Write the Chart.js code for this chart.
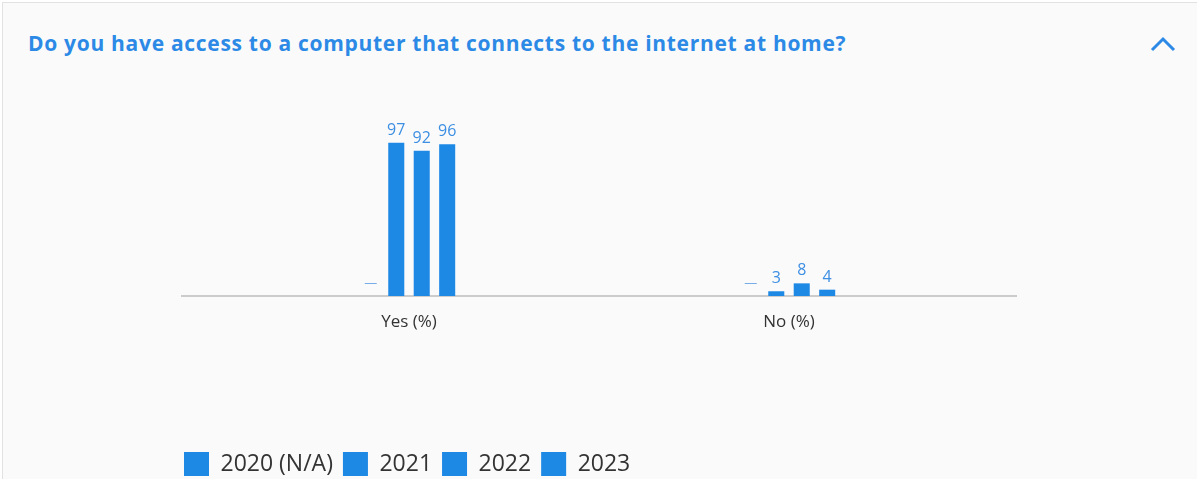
<!DOCTYPE html>
<html>
<head>
<meta charset="utf-8">
<script src="https://cdn.jsdelivr.net/npm/chart.js@4.4.0/dist/chart.umd.min.js"></script>
<style>
  html, body { margin: 0; padding: 0; width: 1197px; height: 479px; overflow: hidden; background: #fff; font-family: "Open Sans", sans-serif; }
  .panel { position: absolute; left: 2px; top: 2px; width: 1195px; height: 477px; background: #fafafa; border-left: 1px solid #e2e2e2; border-top: 1px solid #e2e2e2; box-sizing: border-box; }
  .title { position: absolute; left: 28px; top: 29px; margin: 0; font-size: 21px; letter-spacing: 0.7px; font-weight: 700; color: #2c8ae6; white-space: nowrap; }
  .chev { position: absolute; left: 1150px; top: 36px; }
  #wrap { position: absolute; left: 174px; top: 100px; width: 843px; height: 386px; }
</style>
</head>
<body>
<div class="panel"></div>
<h2 class="title">Do you have access to a computer that connects to the internet at home?</h2>
<svg class="chev" width="26" height="16"><polyline points="2,14 13,3 24,14" fill="none" stroke="#2c8ae6" stroke-width="3"/></svg>
<div id="wrap"><canvas id="chart"></canvas></div>
<script>
// answers and survey years
const categories = ['Yes (%)', 'No (%)'];
const years = ['2020 (N/A)', '2021', '2022', '2023'];
const values2020 = [null, null];
const values2021 = [97, 3];
const values2022 = [92, 8];
const values2023 = [96, 4];

const barColor = '#1e88e5';
const allValues = [values2020, values2021, values2022, values2023];

// grey baseline that runs a bit past the plot on both sides
const baseline = {
  id: 'baseline',
  beforeDatasetsDraw(chart) {
    const ctx = chart.ctx, a = chart.chartArea;
    ctx.save();
    ctx.strokeStyle = '#cccccc';
    ctx.lineWidth = 2;
    ctx.beginPath();
    ctx.moveTo(a.left - 38, a.bottom);
    ctx.lineTo(a.right + 38, a.bottom);
    ctx.stroke();
    ctx.restore();
  }
};

// value above each bar, a dash where there is no data
const valueLabels = {
  id: 'valueLabels',
  afterDatasetsDraw(chart) {
    const ctx = chart.ctx;
    const y0 = chart.scales.y.getPixelForValue(0);
    ctx.save();
    ctx.textAlign = 'center';
    ctx.textBaseline = 'alphabetic';
    chart.data.datasets.forEach((ds, i) => {
      chart.getDatasetMeta(i).data.forEach((bar, j) => {
        const v = ds.data[j];
        if (v == null) {
          ctx.font = '13px "Open Sans"';
          ctx.fillStyle = '#6fa9e8';
          ctx.fillText('\u2014', bar.x, y0 - 9);
        } else {
          ctx.font = '16px "Open Sans"';
          ctx.fillStyle = '#3d8fe3';
          ctx.fillText(String(v), bar.x, bar.y - 8);
        }
      });
    });
    ctx.restore();
  }
};

new Chart(document.getElementById('chart'), {
  type: 'bar',
  data: {
    labels: categories,
    datasets: years.map((y, i) => ({
      label: y,
      data: allValues[i],
      backgroundColor: barColor,
      borderWidth: 0,
      barPercentage: 0.63,
      categoryPercentage: 0.268
    }))
  },
  options: {
    responsive: true,
    maintainAspectRatio: false,
    animation: false,
    layout: { padding: { top: 38, right: 38, left: 0, bottom: 0 } },
    scales: {
      x: {
        grid: { display: false, drawTicks: false },
        border: { display: false },
        ticks: { color: '#333', font: { family: 'Open Sans', size: 17 }, padding: 16 },
        afterFit(s) { s.height = 146; }
      },
      y: {
        min: 0, max: 100,
        grid: { display: false, drawTicks: false },
        border: { display: false },
        ticks: { display: false },
        afterFit(s) { s.width = 45; }
      }
    },
    plugins: {
      legend: {
        position: 'bottom',
        align: 'start',
        labels: {
          boxWidth: 25, boxHeight: 24, padding: 10,
          color: '#333',
          font: { family: 'Open Sans', size: 23 }
        }
      },
      tooltip: { enabled: false }
    }
  },
  plugins: [baseline, valueLabels]
});
</script>
</body>
</html>
